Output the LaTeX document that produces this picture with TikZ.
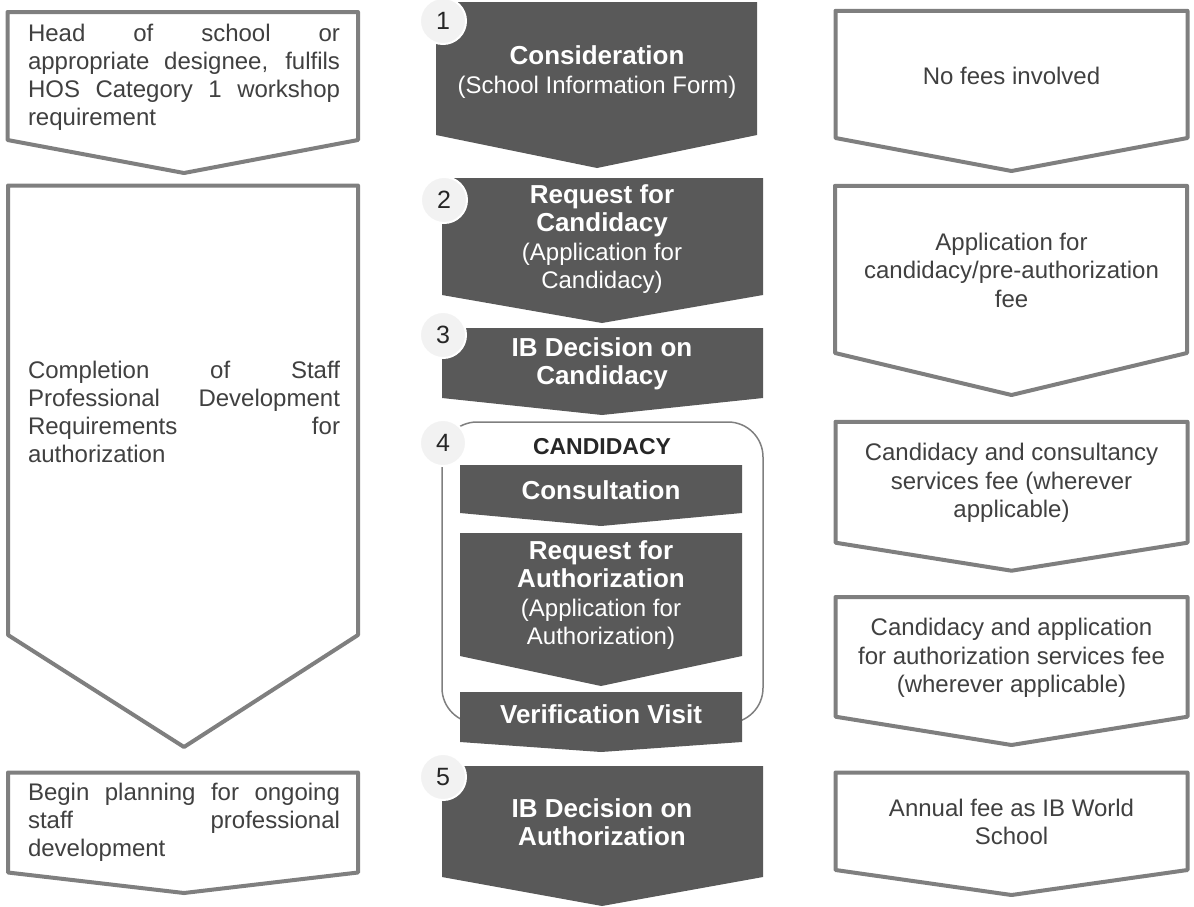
\documentclass[tikz,border=0pt]{standalone}
\usepackage{fontspec}
\setmainfont{Liberation Sans}
\definecolor{darkfill}{HTML}{595959}
\definecolor{outline}{HTML}{7F7F7F}
\definecolor{textgray}{HTML}{404040}
\definecolor{circfill}{HTML}{F2F2F2}
\definecolor{numcol}{HTML}{262626}
\newcommand\chev[7]{\path[#1] (#2,#4) -- (#3,#4) -- (#3,#5) -- (#6,#7) -- (#2,#5) -- cycle;}
\newcommand\bigb[1]{{\fontsize{26}{28.5}\selectfont\bfseries #1}}
\newcommand\jl[1]{\leavevmode\hbox to 312pt{\spaceskip=6pt plus 1fil\relax #1}}
\begin{document}
\begin{tikzpicture}[x=1pt,y=-1pt,
  outl/.style={draw=outline, line width=4pt, line join=round, fill=white},
  darkbox/.style={fill=darkfill},
  sidetext/.style={text=textgray, font=\fontsize{24}{28.5}\selectfont, align=center, inner sep=0pt},
  lefttext/.style={text=textgray, font=\fontsize{24}{28}\selectfont, align=left, text width=312pt, inner sep=0pt},
  midtext/.style={text=white, font=\fontsize{24}{28.5}\selectfont, align=center, inner sep=0pt},
  numcirc/.style={circle, minimum size=46pt, inner sep=0pt, fill=circfill, draw=white, line width=2pt, text=numcol, font=\fontsize{25}{28}\selectfont},
  frame/.style={draw=outline, line width=1.5pt, rounded corners=35pt}]
\useasboundingbox (0,0) rectangle (1194,906);

% left column
\chev{outl}{7.5}{358}{12}{140}{184}{173}
\chev{outl}{8}{358}{185.5}{635}{184}{747}
\chev{outl}{8}{358}{772.5}{872.5}{184}{893}
\node[lefttext] (l1) at (184,77) {\jl{Head of school or}\\\jl{appropriate designee, fulfils}\\\jl{HOS Category 1 workshop}\\requirement};
\node[lefttext] (l2) at (184,412) {\jl{Completion of Staff}\\\jl{Professional Development}\\\jl{Requirements for}\\authorization};
\node[lefttext] (l3) at (184,822) {\jl{Begin planning for ongoing}\\\jl{staff professional}\\development};

% right column
\chev{outl}{835.5}{1187.5}{10.8}{138}{1011.5}{171}
\chev{outl}{835}{1187}{185.8}{353}{1011.5}{395}
\chev{outl}{835.5}{1187.5}{421.8}{542.7}{1011.5}{570.7}
\chev{outl}{835.5}{1187.5}{597}{716.7}{1011.5}{745}
\chev{outl}{835.5}{1187.5}{772.5}{870}{1011.5}{895}
\node[sidetext] (r1) at (1011.5,76) {No fees involved};
\node[sidetext] (r2) at (1011.5,270) {Application for\\candidacy/pre-authorization\\fee};
\node[sidetext] (r3) at (1011.5,483) {Candidacy and consultancy\\services fee (wherever\\applicable)};
\node[sidetext] (r4) at (1011.5,658) {Candidacy and application\\for authorization services fee\\(wherever applicable)};
\node[sidetext] (r5) at (1011.5,822) {Annual fee as IB World\\School};

% middle column
\chev{darkbox}{436}{757}{2}{135}{597}{168}
\chev{darkbox}{442}{763}{178}{295}{602}{323}
\chev{darkbox}{442}{763}{328}{398}{602}{415}
\draw[frame] (442,422) rectangle (763,723);
\chev{darkbox}{460}{742}{465}{513}{601}{526}
\chev{darkbox}{460}{742}{533}{656}{601}{686}
\chev{darkbox}{460}{742}{692}{742}{601}{752}
\chev{darkbox}{442}{763}{766}{877}{602}{906}

\node[midtext] (m1) at (597,72) {\bigb{Consideration}\\(School Information Form)};
\node[midtext] (m2) at (602,239) {\bigb{Request for}\\\bigb{Candidacy}\\(Application for\\Candidacy)};
\node[midtext] (m3) at (602,364) {\bigb{IB Decision on}\\\bigb{Candidacy}};
\node[text=numcol, font=\fontsize{23}{26}\selectfont\bfseries, inner sep=0pt] (cand) at (602,447) {CANDIDACY};
\node[midtext] (m4a) at (601,490) {\bigb{Consultation}};
\node[midtext] (m4b) at (601,595) {\bigb{Request for}\\\bigb{Authorization}\\(Application for\\Authorization)};
\node[midtext] (m4c) at (601,714) {\bigb{Verification Visit}};
\node[midtext] (m5) at (602,822) {\bigb{IB Decision on}\\\bigb{Authorization}};

% number circles
\node[numcirc] (c1) at (443,21) {1};
\node[numcirc] (c2) at (444,200) {2};
\node[numcirc] (c3) at (443,335) {3};
\node[numcirc] (c4) at (443,443) {4};
\node[numcirc] (c5) at (443,777) {5};
\end{tikzpicture}
\end{document}
